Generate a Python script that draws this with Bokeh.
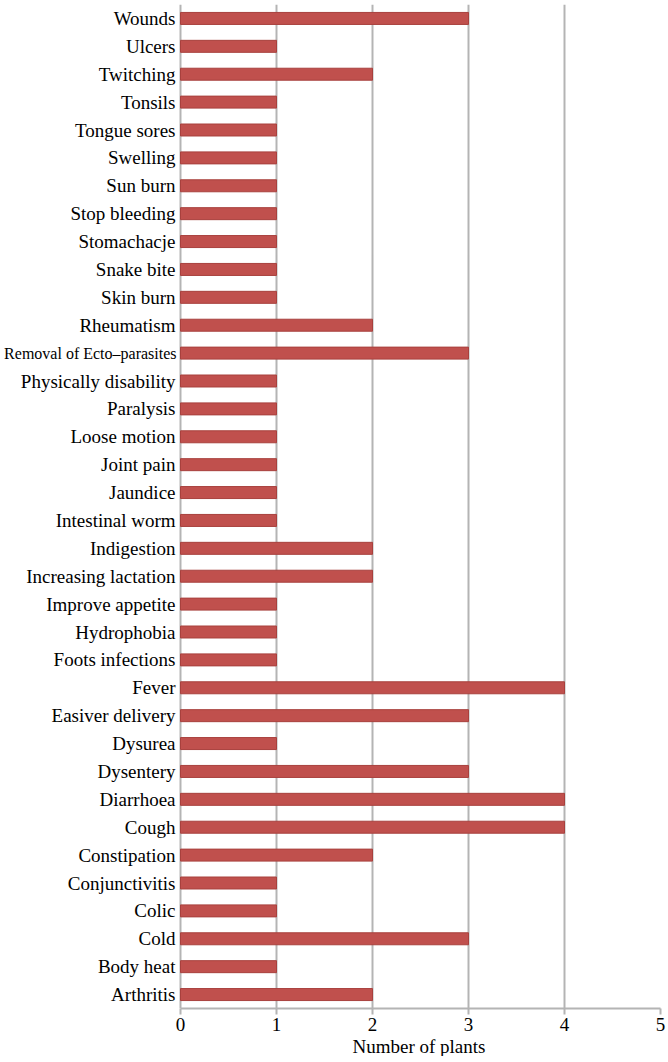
from bokeh.plotting import figure
from bokeh.models import Range1d, FixedTicker, ColumnDataSource, Title, CDSView, BooleanFilter
from bokeh.core.properties import value
from bokeh.embed import file_html
from bokeh.resources import INLINE

# categories listed bottom-to-top
categories = [
    "Arthritis", "Body heat", "Cold", "Colic", "Conjunctivitis", "Constipation",
    "Cough", "Diarrhoea", "Dysentery", "Dysurea", "Easiver delivery", "Fever",
    "Foots infections", "Hydrophobia", "Improve appetite", "Increasing lactation",
    "Indigestion", "Intestinal worm", "Jaundice", "Joint pain", "Loose motion",
    "Paralysis", "Physically disability", "Removal of Ecto\u2013parasites",
    "Rheumatism", "Skin burn", "Snake bite", "Stomachacje", "Stop bleeding",
    "Sun burn", "Swelling", "Tongue sores", "Tonsils", "Twitching", "Ulcers", "Wounds",
]
values = [
    2, 1, 3, 1, 1, 2,
    4, 4, 3, 1, 3, 4,
    1, 1, 1, 2,
    2, 1, 1, 1, 1,
    1, 1, 3,
    2, 1, 1, 1, 1,
    1, 1, 1, 1, 2, 1, 3,
]
x_ticks = [0, 1, 2, 3, 4, 5]
x_title = "Number of plants"
small_label = "Removal of Ecto\u2013parasites"

FONT = "Liberation Serif"
GRAY = "#b4b4b4"
n = len(categories)
pos = list(range(n))
src = ColumnDataSource(dict(y=pos, v=values, name=categories))
is_small = [c == small_label for c in categories]
view_big = CDSView(filter=BooleanFilter([not s for s in is_small]))
view_small = CDSView(filter=BooleanFilter(is_small))

# frame covers the label area too; 0 on x sits 180px from the left edge
PX_PER_UNIT = 96
x_start = -180 / PX_PER_UNIT
p = figure(frame_width=660, frame_height=1004,
           x_range=Range1d(x_start, 5), y_range=Range1d(-0.5, n - 0.5),
           output_backend="svg", toolbar_location=None,
           y_axis_location=None,
           min_border_left=0, min_border_right=8, min_border_top=4,
           min_border_bottom=0)
p.outline_line_color = None
p.background_fill_color = "white"

p.hbar(y="y", right="v", left=0, height=0.43, source=src,
       fill_color="#c0504d", line_color="#a8403d", line_width=1)

p.text(x=0, y="y", text="name", source=src, view=view_big, x_offset=-5,
       text_align="right", text_baseline="middle",
       text_font=value(FONT), text_font_size="19px", text_color="black")
p.text(x=0, y="y", text="name", source=src, view=view_small, x_offset=-4,
       text_align="right", text_baseline="middle",
       text_font=value(FONT), text_font_size="16px", text_color="black")

# x axis limited to 0..5
p.xaxis.bounds = (0, 5)
p.xaxis.ticker = FixedTicker(ticks=x_ticks)
p.xaxis.major_label_text_font = FONT
p.xaxis.major_label_text_font_size = "19px"
p.xaxis.major_label_text_color = "black"
p.xaxis.major_label_standoff = 3
p.xaxis.axis_line_color = GRAY
p.xaxis.axis_line_width = 2
p.xaxis.major_tick_line_color = GRAY
p.xaxis.major_tick_line_width = 2
p.xaxis.major_tick_in = 0
p.xaxis.major_tick_out = 6
p.xaxis.minor_tick_line_color = None

p.add_layout(Title(text=x_title, align="left", offset=352,
                   text_font=FONT, text_font_size="19px",
                   text_font_style="normal", text_color="black",
                   standoff=0), "below")

p.ygrid.grid_line_color = None
p.xgrid.grid_line_color = GRAY
p.xgrid.grid_line_width = 2
p.xgrid.ticker = FixedTicker(ticks=x_ticks)

open("out.html", "w").write(file_html(p, INLINE))
